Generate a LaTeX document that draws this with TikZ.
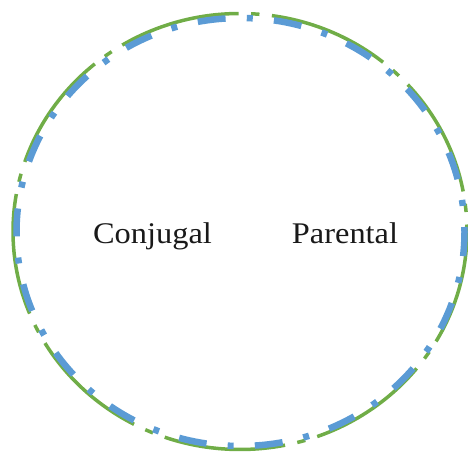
\documentclass[tikz,border=0pt]{standalone}
\usepackage{fontspec}
\newfontfamily\labelfont[FakeStretch=1.08]{Liberation Serif}
\definecolor{ringgreen}{HTML}{70AD47}
\definecolor{ringblue}{HTML}{5B9BD5}
\tikzset{
  greenring/.style={draw=ringgreen, line width=3.5pt,
    dash pattern=on 122pt off 12.5pt on 8.3pt off 12.5pt, dash phase=115pt},
  bluering/.style={draw=ringblue, line width=6.5pt,
    dash pattern=on 28pt off 21.2pt on 6pt off 21.2pt, dash phase=23pt},
  lbl/.style={font=\labelfont\fontsize{30pt}{36pt}\selectfont, anchor=base, inner sep=0pt, text=black!90}
}
\begin{document}
\begin{tikzpicture}[x=1pt,y=1pt]
\useasboundingbox (0,0) rectangle (468,454);
\coordinate (gc) at (240,222.5);
\coordinate (bc) at (240.5,222);
\path[greenring] (gc) ellipse (227 and 218);
\path[bluering] (bc) ellipse (224 and 214);
\node[lbl] (conjugal) at (152.5,210.7) {Conjugal};
\node[lbl] (parental) at (345,210.7) {Parental};
\end{tikzpicture}
\end{document}
